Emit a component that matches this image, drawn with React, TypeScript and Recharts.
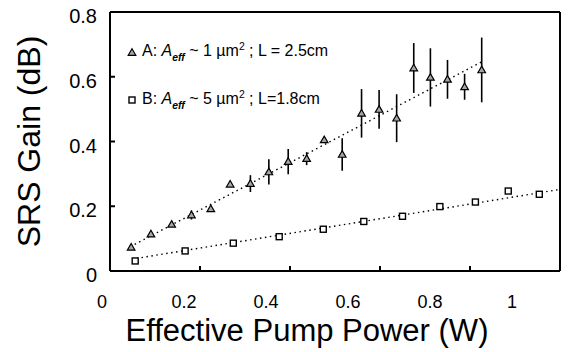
import React from "react";
import {
  ComposedChart,
  Scatter,
  Line,
  XAxis,
  YAxis,
  ErrorBar,
  ReferenceLine,
  Legend,
} from "recharts";

// series A: Aeff ~ 1 um^2, L = 2.5 cm (triangles, with error bars)
const powerA = [0.047, 0.091, 0.137, 0.181, 0.224, 0.267, 0.312, 0.353, 0.396, 0.437, 0.476, 0.516, 0.559, 0.598, 0.637, 0.675, 0.712, 0.75, 0.788, 0.826];
const gainA = [0.073, 0.114, 0.144, 0.173, 0.192, 0.268, 0.27, 0.306, 0.338, 0.347, 0.405, 0.36, 0.487, 0.499, 0.472, 0.627, 0.598, 0.592, 0.569, 0.621];
const errA = [0, 0, 0, 0.014, 0, 0, 0.026, 0.039, 0.039, 0.02, 0.01, 0.05, 0.075, 0.06, 0.074, 0.077, 0.09, 0.06, 0.04, 0.1];

// series B: Aeff ~ 5 um^2, L = 1.8 cm (squares)
const powerB = [0.056, 0.167, 0.274, 0.376, 0.474, 0.564, 0.65, 0.733, 0.812, 0.885, 0.954];
const gainB = [0.031, 0.062, 0.086, 0.106, 0.129, 0.153, 0.169, 0.199, 0.213, 0.247, 0.237];

// dotted linear fits (end points)
const fitAx = [0.045, 0.826];
const fitAy = [0.075, 0.646];
const fitBx = [0.059, 1.0];
const fitBy = [0.039, 0.252];

const xTicks = [0, 0.2, 0.4, 0.6, 0.8, 1];
const yTicks = [0, 0.2, 0.4, 0.6, 0.8];

const legendNames = ["A", "B"];
const legendArea = ["1", "5"];
const legendLength = ["L = 2.5cm", "L=1.8cm"];

const FONT = '"Liberation Sans", Arial, Helvetica, sans-serif';
const PLOT_LEFT = 110;
// the text layer of the original figure is squeezed a bit to the left
const TEXT_SQUEEZE = 410 / 450;
const TEXT_SHIFT = -8;
const textX = (px: number) => PLOT_LEFT + TEXT_SHIFT + (px - PLOT_LEFT) * TEXT_SQUEEZE;

const dataA = powerA.map((x, i) => ({ x, y: gainA[i], err: errA[i] }));
const dataB = powerB.map((x, i) => ({ x, y: gainB[i] }));
const lineA = fitAx.map((x, i) => ({ x, y: fitAy[i] }));
const lineB = fitBx.map((x, i) => ({ x, y: fitBy[i] }));

const Tri = (p: any) => (
  <path
    d={`M${p.cx},${p.cy - 3.8} L${p.cx + 3.8},${p.cy + 2.8} L${p.cx - 3.8},${p.cy + 2.8} Z`}
    fill="#a6a6a6"
    stroke="#000"
    strokeWidth={1.2}
  />
);

const Sq = (p: any) => (
  <rect x={p.cx - 3} y={p.cy - 3} width={6} height={6} fill="#fff" stroke="#000" strokeWidth={1.4} />
);

const XTick = (props: any) => {
  const { y, payload } = props;
  return (
    <text x={textX(payload.coordinate)} y={y + 40} textAnchor="middle" fontSize={18} fontFamily={FONT} fill="#000">
      {payload.value}
    </text>
  );
};

const YTick = (props: any) => {
  const { x, payload } = props;
  return (
    <text x={x - 16} y={payload.coordinate + 11} textAnchor="end" fontSize={20} fontFamily={FONT} fill="#000">
      {payload.value}
    </text>
  );
};

const LegendBox = () => (
  <div style={{ fontFamily: FONT, fontSize: 16, color: "#000" }}>
    {legendNames.map((name, i) => (
      <div key={name} style={{ display: "flex", alignItems: "center", height: 24, marginBottom: 24 }}>
        <svg width={10} height={10}>
          {i === 0 ? <Tri cx={5} cy={5.5} /> : <Sq cx={5} cy={5} />}
        </svg>
        <span style={{ marginLeft: 5, whiteSpace: "nowrap" }}>
          {name}: <i>A</i>
          <sub style={{ fontSize: "0.65em", fontStyle: "italic", fontWeight: "bold" }}>eff</sub> ~ {legendArea[i]} µm
          <sup style={{ fontSize: "0.65em" }}>2</sup> ; {legendLength[i]}
        </span>
      </div>
    ))}
  </div>
);

export default function App() {
  return (
    <div style={{ position: "absolute", left: 0, top: 0, background: "#fff" }}>
      <ComposedChart width={573} height={352} margin={{ top: 12, right: 13, bottom: 51, left: 30 }}>
        <XAxis
          type="number"
          dataKey="x"
          domain={[0, 1]}
          ticks={xTicks}
          height={30}
          tickSize={-5}
          axisLine={{ stroke: "#000", strokeWidth: 2 }}
          tickLine={{ stroke: "#000", strokeWidth: 2 }}
          tick={<XTick />}
          label={{
            content: (p: any) => {
              const vb = p.viewBox;
              return (
                <text x={textX(vb.x + vb.width / 2)} y={vb.y + 70} textAnchor="middle" fontSize={31} fontFamily={FONT} fill="#000">
                  Effective Pump Power (W)
                </text>
              );
            },
          }}
        />
        <YAxis
          type="number"
          dataKey="y"
          domain={[0, 0.8]}
          ticks={yTicks}
          width={80}
          tickSize={-5}
          axisLine={{ stroke: "#000", strokeWidth: 2 }}
          tickLine={{ stroke: "#000", strokeWidth: 2 }}
          tick={<YTick />}
          label={{
            content: (p: any) => {
              const vb = p.viewBox;
              const cx = vb.x - 1;
              const cy = vb.y + vb.height / 2;
              return (
                <text
                  x={cx}
                  y={cy}
                  transform={`rotate(-90 ${cx} ${cy})`}
                  textAnchor="middle"
                  dominantBaseline="central"
                  fontSize={32}
                  fontFamily={FONT}
                  fill="#000"
                >
                  SRS Gain (dB)
                </text>
              );
            },
          }}
        />
        <ReferenceLine y={0.8} stroke="#000" strokeWidth={2} />
        <ReferenceLine x={1} stroke="#000" strokeWidth={2} />
        <Line data={lineA} dataKey="y" dot={false} stroke="#000" strokeWidth={1.4} strokeDasharray="1.5 3.5" isAnimationActive={false} legendType="none" />
        <Line data={lineB} dataKey="y" dot={false} stroke="#000" strokeWidth={1.4} strokeDasharray="1.5 3.5" isAnimationActive={false} legendType="none" />
        <Scatter data={dataA} dataKey="y" shape={<Tri />} isAnimationActive={false}>
          <ErrorBar dataKey="err" direction="y" width={0} stroke="#000" strokeWidth={1.6} />
        </Scatter>
        <Scatter data={dataB} dataKey="y" shape={<Sq />} isAnimationActive={false} />
        <Legend
          layout="horizontal"
          verticalAlign="middle"
          align="center"
          content={<LegendBox />}
          wrapperStyle={{ position: "absolute", left: 127, top: 40, width: "auto" }}
        />
      </ComposedChart>
    </div>
  );
}
